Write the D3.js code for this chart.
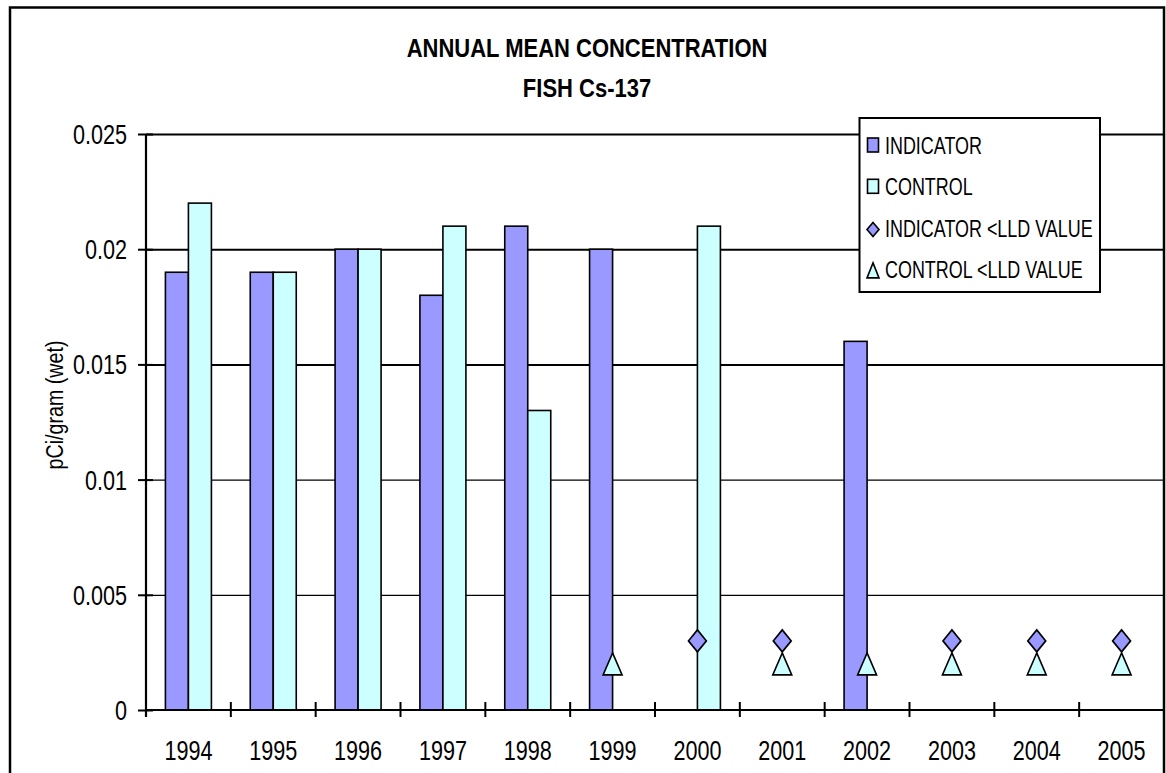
<!DOCTYPE html>
<html>
<head>
<meta charset="utf-8">
<script src="https://cdn.jsdelivr.net/npm/d3@7"></script>
<style>
  body { margin: 0; background: #fff; }
  svg { display: block; }
  text { font-family: "Liberation Sans", Arial, sans-serif; fill: #000; }
</style>
</head>
<body>
<div id="chart"></div>
<script>
// chart data
const years = ["1994", "1995", "1996", "1997", "1998", "1999", "2000", "2001", "2002", "2003", "2004", "2005"];
const indicator = [0.019, 0.019, 0.020, 0.018, 0.021, 0.020, null, null, 0.016, null, null, null];
const control = [0.022, 0.019, 0.020, 0.021, 0.013, null, 0.021, null, null, null, null, null];
const indicatorLLD = [null, null, null, null, null, null, 0.003, 0.003, null, 0.003, 0.003, 0.003];
const controlLLD = [null, null, null, null, null, 0.002, null, 0.002, 0.002, 0.002, 0.002, 0.002];
const yTicks = [0, 0.005, 0.01, 0.015, 0.02, 0.025];
const yTickLabels = ["0", "0.005", "0.01", "0.015", "0.02", "0.025"];
const seriesNames = ["INDICATOR", "CONTROL", "INDICATOR <LLD VALUE", "CONTROL <LLD VALUE"];
const titleLines = ["ANNUAL MEAN CONCENTRATION", "FISH Cs-137"];
const yLabel = "pCi/gram (wet)";

const W = 1166, H = 773;
const pLeft = 146, pRight = 1164, pTop = 134, pBottom = 710;
const indColor = "#9999ff", ctlColor = "#ccffff";
const narrow = 0.8; // squeeze text horizontally (narrow font look)

const svg = d3.select("#chart").append("svg")
  .attr("width", W).attr("height", H);

// outer chart border
svg.append("rect")
  .attr("x", 10).attr("y", 7.5)
  .attr("width", 1154).attr("height", 820)
  .attr("fill", "none").attr("stroke", "#000").attr("stroke-width", 2.5);

const x = d3.scaleBand().domain(years).range([pLeft, pRight]).padding(0);
const y = d3.scaleLinear().domain([0, 0.025]).range([pBottom, pTop]);
const barW = 23;

// gridlines
svg.append("g")
  .attr("transform", `translate(${pLeft},0)`)
  .call(d3.axisLeft(y).tickValues(yTicks.slice(1)).tickSize(-(pRight - pLeft)).tickFormat(""))
  .call(g => g.select(".domain").remove())
  .call(g => g.selectAll("line")
    .attr("stroke", "#000")
    .attr("stroke-width", d => d >= 0.015 ? 2 : 1.2));

// bars
const bars = svg.append("g");
bars.selectAll(".ind")
  .data(years.map((yr, i) => ({ yr, v: indicator[i] })).filter(d => d.v != null))
  .join("rect")
  .attr("class", "ind")
  .attr("x", d => x(d.yr) + x.bandwidth() / 2 - barW)
  .attr("y", d => y(d.v))
  .attr("width", barW)
  .attr("height", d => pBottom - y(d.v))
  .attr("fill", indColor).attr("stroke", "#000").attr("stroke-width", 1.6);

bars.selectAll(".ctl")
  .data(years.map((yr, i) => ({ yr, v: control[i] })).filter(d => d.v != null))
  .join("rect")
  .attr("class", "ctl")
  .attr("x", d => x(d.yr) + x.bandwidth() / 2)
  .attr("y", d => y(d.v))
  .attr("width", barW)
  .attr("height", d => pBottom - y(d.v))
  .attr("fill", ctlColor).attr("stroke", "#000").attr("stroke-width", 1.6);

// <LLD markers
const diamond = (w, h) => `M0,${-h} L${w},0 L0,${h} L${-w},0 Z`;
const triangle = (w, h) => `M0,${-h} L${w},${h} L${-w},${h} Z`;

svg.append("g").selectAll("path")
  .data(years.map((yr, i) => ({ yr, v: controlLLD[i] })).filter(d => d.v != null))
  .join("path")
  .attr("d", triangle(9.5, 11))
  .attr("transform", d => `translate(${x(d.yr) + x.bandwidth() / 2},${y(d.v)})`)
  .attr("fill", ctlColor).attr("stroke", "#000").attr("stroke-width", 1.6);

svg.append("g").selectAll("path")
  .data(years.map((yr, i) => ({ yr, v: indicatorLLD[i] })).filter(d => d.v != null))
  .join("path")
  .attr("d", diamond(9, 11))
  .attr("transform", d => `translate(${x(d.yr) + x.bandwidth() / 2},${y(d.v)})`)
  .attr("fill", indColor).attr("stroke", "#000").attr("stroke-width", 1.6);

// y axis
svg.append("g")
  .attr("transform", `translate(${pLeft},0)`)
  .call(d3.axisLeft(y).tickValues(yTicks).tickFormat((d, i) => yTickLabels[i]).tickSizeOuter(0))
  .call(g => g.select(".domain").attr("stroke", "#000").attr("stroke-width", 2.2)
    .attr("d", `M0,${pTop}V${pBottom}`))
  .call(g => g.selectAll(".tick line").attr("x1", 7).attr("x2", -8)
    .attr("stroke", "#000").attr("stroke-width", 2))
  .call(g => g.selectAll(".tick text")
    .attr("x", -19 / narrow).attr("y", 9.5).attr("dy", 0)
    .attr("transform", `scale(${narrow},1)`)
    .style("font-size", "27px"));

// x axis: labels at band centers
svg.append("g")
  .attr("transform", `translate(0,${pBottom})`)
  .call(d3.axisBottom(x).tickSize(0))
  .call(g => g.select(".domain").remove())
  .call(g => g.selectAll(".tick text")
    .attr("y", 50).attr("dy", 0)
    .attr("transform", `scale(${narrow},1)`)
    .style("font-size", "27px"));

// x axis line and boundary ticks
const xa = svg.append("g");
xa.append("line")
  .attr("x1", pLeft).attr("x2", pRight)
  .attr("y1", pBottom).attr("y2", pBottom)
  .attr("stroke", "#000").attr("stroke-width", 2.2);
xa.selectAll(".bt")
  .data(years.slice(1))
  .join("line")
  .attr("class", "bt")
  .attr("x1", d => x(d)).attr("x2", d => x(d))
  .attr("y1", pBottom - 8).attr("y2", pBottom + 7)
  .attr("stroke", "#000").attr("stroke-width", 2);
xa.append("line")
  .attr("x1", pLeft).attr("x2", pLeft)
  .attr("y1", pBottom).attr("y2", pBottom + 7)
  .attr("stroke", "#000").attr("stroke-width", 2.2);

// title
svg.append("g").selectAll("text")
  .data(titleLines)
  .join("text")
  .attr("transform", (d, i) => `translate(587,${56.7 + i * 40}) scale(0.83,1)`)
  .attr("text-anchor", "middle")
  .style("font-size", "26.5px").style("font-weight", "bold")
  .text(d => d);

// y label
svg.append("text")
  .attr("transform", `translate(63,405) rotate(-90) scale(0.82,1)`)
  .attr("text-anchor", "middle")
  .style("font-size", "24px")
  .text(yLabel);

// legend
const lg = svg.append("g");
lg.append("rect")
  .attr("x", 859.5).attr("y", 118)
  .attr("width", 240.5).attr("height", 174)
  .attr("fill", "#fff").attr("stroke", "#000").attr("stroke-width", 2);

const items = lg.selectAll(".item")
  .data(seriesNames)
  .join("g")
  .attr("class", "item")
  .attr("transform", (d, i) => `translate(873,${154 + i * 41.3})`);

items.append("text")
  .attr("transform", "scale(0.78,1)")
  .attr("x", 12 / 0.78)
  .style("font-size", "23px")
  .text(d => d);

items.filter((d, i) => i < 2).append("rect")
  .attr("x", -5.5).attr("y", -16)
  .attr("width", 11).attr("height", 14)
  .attr("fill", (d, i) => i === 0 ? indColor : ctlColor)
  .attr("stroke", "#000").attr("stroke-width", 1.6);

items.filter((d, i) => i === 2).append("path")
  .attr("d", diamond(6, 7))
  .attr("transform", "translate(0,-7)")
  .attr("fill", indColor).attr("stroke", "#000").attr("stroke-width", 1.6);

items.filter((d, i) => i === 3).append("path")
  .attr("d", triangle(6, 7.5))
  .attr("transform", "translate(0,-7.5)")
  .attr("fill", ctlColor).attr("stroke", "#000").attr("stroke-width", 1.6);
</script>
</body>
</html>
